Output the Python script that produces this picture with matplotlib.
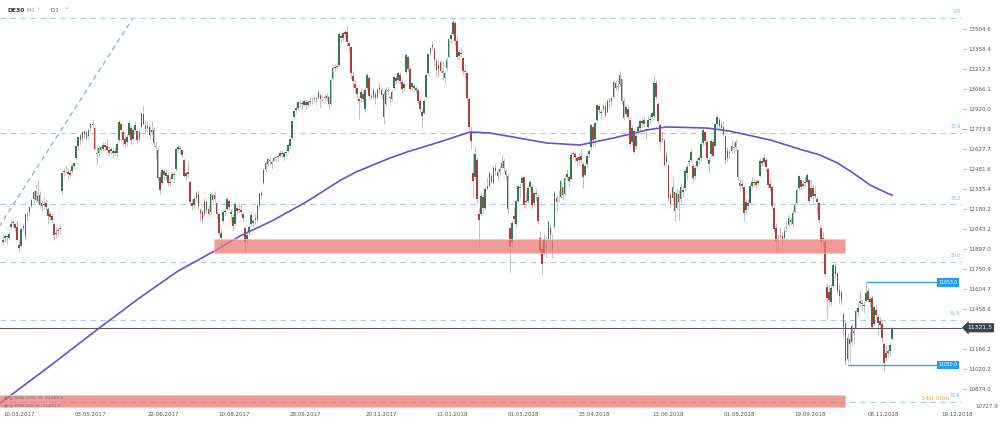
import matplotlib
matplotlib.use("Agg")
import matplotlib.pyplot as plt
import numpy as np
from matplotlib.patches import Rectangle
from matplotlib.transforms import blended_transform_factory

# ─────────────────────────────────────────────
# DATA  (DE30, D1 candles, 10.03.2017 .. 26.11.2018, one row per month)
# ─────────────────────────────────────────────
opens = [
    11950, 11975, 11985, 11980, 12060, 12090, 12080, 12060, 11930, 11920, 12050, 11990, 12150, 12165, 12210, 12260,
    12320, 12250, 12290, 12210, 12220, 12230, 12190, 12130, 12140, 12080, 12010, 12030, 12040, 12320, 12460, 12475, 12460, 12450,
    12470, 12500, 12560, 12650, 12730, 12700, 12740, 12750, 12720, 12780, 12810, 12780, 12600, 12600, 12640, 12630, 12660, 12650, 12620, 12610, 12610, 12600,
    12600, 12690, 12810, 12750, 12700, 12680, 12730, 12780, 12700, 12770, 12760, 12700, 12790, 12880, 12800, 12780, 12790, 12750, 12770, 12640, 12620, 12420,
    12380, 12470, 12430, 12440, 12380, 12410, 12440, 12480, 12630, 12630, 12620, 12550, 12430, 12460, 12390, 12230, 12220, 12270, 12300, 12180, 12170,
    12150, 12240, 12190, 12170, 12290, 12260, 12230, 12150, 11980, 12100, 12170, 12190, 12250, 12150, 12130, 12080, 12200, 12190, 12180, 12150, 12050, 11960, 12020,
    12080, 12090, 12110, 12110, 12210, 12290, 12380, 12480, 12520, 12550, 12530, 12540, 12560, 12570, 12580, 12600, 12570, 12600, 12610, 12650, 12710,
    12860, 12910, 12930, 12970, 12960, 12950, 12970, 12950, 12970, 12990, 12990, 13000, 13000, 13020, 12990, 13000, 13000, 13010, 12960, 13140, 13220, 13230,
    13240, 13450, 13440, 13480, 13480, 13400, 13370, 13160, 13100, 13070, 12990, 13000, 13030, 12920, 13070, 13150, 13010, 13010, 13030, 13010, 13070, 13060,
    13030, 12960, 13060, 13000, 12990, 13070, 13150, 13130, 13170, 13120, 13070, 13190, 13300, 13210, 13080, 13090, 13060, 13060, 12980,
    12900, 12890, 13010, 13180, 13330, 13370, 13360, 13270, 13210, 13260, 13200, 13150, 13220, 13300, 13430, 13470, 13550, 13420, 13310, 13330, 13290, 13200,
    13180, 12990, 12750, 12450, 12420, 12550, 12150, 12150, 12280, 12200, 12360, 12360, 12430, 12380, 12490, 12430, 12460, 12490, 12540, 12470,
    12430, 12050, 11950, 12140, 12080, 12250, 12350, 12380, 12420, 12250, 12250, 12350, 12350, 12230, 12300, 12280, 11980, 11900, 11860, 11900, 11970,
    12050, 11900, 12060, 12270, 12260, 12280, 12350, 12300, 12420, 12420, 12410, 12590, 12590, 12560, 12550, 12580, 12520, 12440, 12520, 12590,
    12640, 12790, 12700, 12840, 12940, 12890, 12920, 12940, 12900, 12970, 12980, 13010, 13110, 13090, 13100, 13140, 12980, 12880, 12920, 12840, 12680, 12760,
    12650, 12760, 12780, 12820, 12840, 12770, 12790, 12850, 12860, 12870, 13110, 12960, 12800, 12700, 12690, 12530, 12510, 12290, 12270, 12310, 12200,
    12300, 12260, 12330, 12340, 12450, 12530, 12550, 12500, 12430, 12500, 12550, 12560, 12670, 12750, 12680, 12520, 12590, 12680, 12650, 12810, 12840, 12780,
    12790, 12720, 12560, 12600, 12610, 12640, 12640, 12620, 12380, 12370, 12350, 12180, 12230, 12230, 12360, 12380, 12390, 12380, 12430, 12540, 12530, 12550, 12480,
    12370, 12350, 12200, 12050, 11970, 11990, 11990, 11980, 12050, 12070, 12110, 12080, 12170, 12230, 12340, 12400, 12360, 12380, 12390, 12400,
    12280, 12340, 12300, 12260, 12230, 12050, 11960, 11950, 11620, 11580, 11510, 11630, 11770, 11720, 11600, 11580, 11420, 11360, 11090, 11240, 11220, 11300, 11320,
    11440, 11500, 11500, 11490, 11520, 11590, 11510, 11540, 11350, 11450, 11400, 11370, 11350, 11200, 11100, 11150, 11150, 11240,
]
highs = [
    12010, 12005, 11995, 12025, 12110, 12110, 12090, 12110, 11960, 12060, 12090, 12160, 12175, 12210, 12270, 12330,
    12375, 12400, 12320, 12250, 12280, 12255, 12205, 12175, 12160, 12095, 12060, 12050, 12080, 12470, 12490, 12510, 12490, 12480,
    12520, 12540, 12660, 12720, 12740, 12760, 12770, 12760, 12780, 12820, 12840, 12790, 12640, 12660, 12660, 12680, 12680, 12700, 12640, 12640, 12630, 12640,
    12680, 12840, 12830, 12770, 12730, 12740, 12840, 12800, 12790, 12830, 12770, 12780, 12900, 12950, 12830, 12830, 12800, 12830, 12790, 12680, 12640, 12460,
    12490, 12480, 12480, 12460, 12420, 12460, 12470, 12640, 12660, 12650, 12630, 12560, 12470, 12540, 12400, 12260, 12280, 12320, 12330, 12200, 12190,
    12270, 12260, 12220, 12310, 12300, 12320, 12250, 12160, 12050, 12180, 12200, 12280, 12260, 12190, 12150, 12240, 12220, 12230, 12220, 12160, 12060, 12030, 12090,
    12170, 12120, 12160, 12230, 12310, 12320, 12490, 12540, 12560, 12570, 12550, 12580, 12580, 12590, 12620, 12620, 12610, 12630, 12670, 12710, 12840,
    12920, 12950, 12980, 12990, 12980, 12990, 12990, 12980, 13010, 13010, 13020, 13010, 13060, 13030, 13020, 13030, 13040, 13020, 13140, 13240, 13250, 13260,
    13480, 13470, 13490, 13500, 13525, 13420, 13380, 13200, 13140, 13090, 13010, 13070, 13060, 13070, 13180, 13160, 13040, 13070, 13050, 13070, 13110, 13080,
    13050, 13080, 13090, 13020, 13060, 13170, 13170, 13200, 13190, 13140, 13120, 13330, 13310, 13230, 13120, 13100, 13090, 13070, 13000,
    12920, 12990, 13180, 13330, 13380, 13420, 13370, 13290, 13280, 13280, 13270, 13200, 13300, 13440, 13480, 13590, 13560, 13470, 13360, 13370, 13300, 13250,
    13200, 13010, 12790, 12600, 12650, 12580, 12200, 12320, 12300, 12360, 12420, 12470, 12450, 12500, 12520, 12480, 12500, 12590, 12560, 12480,
    12450, 12060, 12110, 12200, 12260, 12370, 12380, 12440, 12430, 12310, 12360, 12400, 12370, 12320, 12340, 12300, 12030, 11950, 12010, 11990, 12110,
    12080, 12010, 12320, 12290, 12330, 12410, 12360, 12430, 12480, 12440, 12600, 12620, 12610, 12580, 12600, 12630, 12530, 12520, 12600, 12630,
    12810, 12800, 12830, 12960, 12960, 12920, 12960, 12970, 12990, 13000, 13010, 13130, 13130, 13130, 13200, 13150, 13000, 12960, 12950, 12860, 12800, 12770,
    12750, 12800, 12850, 12860, 12870, 12790, 12870, 12880, 12900, 13170, 13130, 12970, 12810, 12760, 12700, 12610, 12520, 12330, 12420, 12320, 12340,
    12330, 12380, 12360, 12480, 12520, 12560, 12630, 12520, 12510, 12560, 12580, 12670, 12780, 12760, 12700, 12570, 12700, 12700, 12820, 12880, 12860, 12830,
    12830, 12730, 12640, 12630, 12690, 12670, 12700, 12630, 12420, 12410, 12360, 12270, 12260, 12370, 12420, 12410, 12410, 12410, 12560, 12570, 12590, 12560, 12490,
    12400, 12360, 12220, 12090, 12010, 12060, 12020, 12060, 12100, 12150, 12130, 12180, 12240, 12340, 12440, 12410, 12400, 12420, 12450, 12410,
    12410, 12370, 12360, 12280, 12250, 12080, 12030, 11980, 11650, 11640, 11640, 11790, 11800, 11730, 11640, 11600, 11440, 11380, 11280, 11290, 11360, 11330, 11460,
    11500, 11600, 11530, 11520, 11653, 11620, 11560, 11560, 11480, 11500, 11420, 11400, 11370, 11220, 11200, 11170, 11220, 11330,
]
lows = [
    11925, 11950, 11935, 11960, 12040, 12060, 12030, 11955, 11880, 11910, 12030, 11960, 12105, 12140, 12195, 12230,
    12240, 12230, 12200, 12170, 12190, 12180, 12080, 12100, 12090, 11960, 11980, 11990, 12010, 12300, 12430, 12450, 12410, 12420,
    12455, 12480, 12550, 12620, 12660, 12680, 12710, 12690, 12700, 12760, 12780, 12620, 12510, 12580, 12600, 12610, 12620, 12610, 12580, 12590, 12560, 12580,
    12570, 12680, 12760, 12660, 12640, 12650, 12720, 12660, 12690, 12750, 12670, 12680, 12780, 12800, 12740, 12750, 12700, 12740, 12650, 12560, 12400, 12300,
    12370, 12410, 12400, 12360, 12350, 12400, 12380, 12470, 12600, 12590, 12570, 12420, 12400, 12420, 12220, 12180, 12200, 12250, 12180, 12100, 12090,
    12140, 12160, 12130, 12150, 12240, 12240, 12120, 12000, 11920, 12090, 12140, 12180, 12180, 12100, 12030, 12070, 12150, 12160, 12140, 12100, 11868, 11940, 12000,
    12070, 12060, 12080, 12100, 12190, 12260, 12370, 12460, 12500, 12510, 12480, 12530, 12540, 12540, 12570, 12570, 12540, 12580, 12600, 12630, 12700,
    12850, 12890, 12910, 12940, 12920, 12940, 12920, 12930, 12950, 12960, 12970, 12950, 12990, 12930, 12970, 12980, 12980, 12920, 12950, 13130, 13200, 13210,
    13230, 13400, 13420, 13440, 13380, 13340, 13140, 13080, 13040, 12990, 12850, 12980, 12970, 12900, 13060, 12990, 12990, 12990, 12960, 12990, 13040, 12990,
    12810, 12950, 13020, 12950, 12980, 13060, 13100, 13110, 13100, 13040, 13050, 13180, 13190, 13060, 13050, 13050, 13040, 12960, 12900,
    12780, 12880, 13000, 13170, 13310, 13350, 13230, 13160, 13150, 13190, 13130, 13120, 13200, 13290, 13400, 13460, 13390, 13280, 13280, 13300, 13170, 13150,
    12980, 12760, 12630, 12280, 12410, 12240, 11910, 12140, 12160, 12180, 12330, 12350, 12370, 12370, 12440, 12400, 12440, 12480, 12470, 12410,
    12160, 11722, 11900, 12080, 12050, 12230, 12280, 12360, 12200, 12200, 12230, 12320, 12190, 12210, 12250, 12080, 11850, 11715, 11850, 11830, 11950,
    11880, 11830, 12050, 12170, 12240, 12270, 12260, 12290, 12400, 12360, 12400, 12560, 12530, 12500, 12510, 12530, 12340, 12420, 12490, 12570,
    12620, 12650, 12640, 12830, 12880, 12850, 12900, 12860, 12890, 12930, 12950, 13000, 13060, 13060, 13090, 12950, 12840, 12860, 12850, 12650, 12660, 12590,
    12630, 12740, 12760, 12780, 12790, 12700, 12780, 12810, 12830, 12850, 12990, 12820, 12620, 12680, 12500, 12500, 12250, 12200, 12250, 12100, 12180,
    12110, 12240, 12280, 12320, 12400, 12500, 12530, 12380, 12410, 12480, 12520, 12540, 12650, 12660, 12540, 12460, 12580, 12560, 12640, 12790, 12770, 12760,
    12720, 12520, 12540, 12560, 12600, 12600, 12620, 12400, 12330, 12320, 12105, 12150, 12180, 12220, 12340, 12350, 12340, 12360, 12420, 12500, 12510, 12460, 12340,
    12320, 12190, 12020, 11870, 11880, 11970, 11920, 11960, 12020, 12060, 12070, 12060, 12160, 12220, 12330, 12330, 12340, 12350, 12380, 12220,
    12270, 12230, 12270, 12150, 12090, 11920, 11900, 11690, 11390, 11490, 11490, 11620, 11680, 11570, 11500, 11490, 11260, 11050, 11070, 11080, 11190, 11200, 11310,
    11400, 11470, 11450, 11430, 11510, 11500, 11470, 11310, 11340, 11380, 11260, 11310, 11210, 11010, 11080, 11100, 11110, 11230,
]
closes = [
    11963, 11990, 11988, 12009, 12083, 12095, 12052, 11962, 11904, 12040, 12064, 12149, 12149, 12203, 12257, 12313,
    12257, 12282, 12218, 12230, 12225, 12201, 12139, 12154, 12109, 12000, 12017, 12027, 12048, 12455, 12467, 12472, 12443, 12438,
    12507, 12527, 12648, 12716, 12694, 12749, 12757, 12711, 12770, 12808, 12804, 12631, 12590, 12638, 12619, 12659, 12642, 12622, 12602, 12629, 12599, 12615,
    12664, 12823, 12770, 12690, 12667, 12714, 12816, 12690, 12765, 12806, 12692, 12752, 12888, 12814, 12774, 12794, 12733, 12770, 12671, 12647, 12416, 12325,
    12475, 12437, 12453, 12381, 12389, 12445, 12437, 12626, 12641, 12632, 12587, 12430, 12452, 12448, 12240, 12209, 12263, 12305, 12212, 12163, 12118,
    12251, 12181, 12154, 12298, 12257, 12292, 12154, 12014, 12014, 12165, 12178, 12263, 12203, 12165, 12065, 12229, 12174, 12180, 12167, 12123, 11946, 12002, 12055,
    12142, 12102, 12123, 12214, 12296, 12303, 12475, 12524, 12553, 12540, 12519, 12560, 12561, 12569, 12600, 12592, 12595, 12605, 12657, 12704, 12829,
    12903, 12930, 12970, 12968, 12955, 12976, 12949, 12970, 12982, 12992, 13004, 12995, 13043, 12990, 12991, 13003, 13013, 12953, 13133, 13217, 13229, 13229,
    13465, 13440, 13478, 13468, 13406, 13382, 13182, 13127, 13074, 13033, 12976, 13047, 12994, 13059, 13169, 13015, 13008, 13059, 13000, 13060, 13061, 13024,
    12861, 13058, 13048, 12999, 13045, 13153, 13123, 13183, 13125, 13068, 13104, 13312, 13215, 13069, 13110, 13072, 13070, 12979, 12918,
    12871, 12978, 13167, 13319, 13367, 13385, 13281, 13202, 13245, 13201, 13184, 13183, 13281, 13434, 13463, 13559, 13414, 13298, 13340, 13324, 13197, 13189,
    13003, 12785, 12687, 12393, 12590, 12260, 12107, 12282, 12196, 12339, 12346, 12452, 12385, 12487, 12470, 12461, 12483, 12527, 12490, 12436,
    12190, 11914, 12090, 12114, 12245, 12355, 12346, 12418, 12221, 12238, 12345, 12390, 12217, 12307, 12309, 12101, 11887, 11787, 11970, 11940, 12097,
    12002, 11957, 12306, 12241, 12261, 12397, 12293, 12415, 12442, 12391, 12585, 12590, 12567, 12540, 12572, 12550, 12422, 12500, 12580, 12612,
    12802, 12690, 12820, 12948, 12912, 12897, 12945, 12874, 12977, 12970, 13000, 13114, 13077, 13078, 13169, 12977, 12855, 12938, 12863, 12666, 12783, 12605,
    12724, 12787, 12831, 12830, 12811, 12767, 12842, 12842, 12890, 13107, 13011, 12834, 12677, 12695, 12512, 12580, 12271, 12228, 12348, 12177, 12306,
    12238, 12349, 12317, 12465, 12496, 12543, 12609, 12417, 12492, 12541, 12561, 12661, 12765, 12686, 12561, 12548, 12689, 12579, 12809, 12860, 12798, 12805,
    12737, 12546, 12616, 12598, 12648, 12633, 12676, 12424, 12358, 12358, 12163, 12237, 12210, 12358, 12384, 12385, 12365, 12394, 12538, 12527, 12561, 12494, 12364,
    12346, 12210, 12040, 11955, 11960, 11986, 11970, 12032, 12055, 12124, 12096, 12158, 12219, 12326, 12431, 12350, 12374, 12385, 12435, 12247,
    12346, 12287, 12287, 12244, 12111, 11947, 11977, 11712, 11539, 11524, 11614, 11777, 11715, 11589, 11553, 11524, 11330, 11080, 11250, 11200, 11335, 11287, 11447,
    11468, 11519, 11494, 11484, 11579, 11527, 11529, 11325, 11472, 11412, 11353, 11341, 11244, 11066, 11138, 11137, 11193, 11321.5,
]

# 200-period SMA (bar index, value)
sma_bars = [-1.5, 23, 46, 67, 86, 103, 116.5, 133, 149, 166, 173.5, 181.8, 190.2, 198.5, 206.4, 214.7, 222.1,
            229.5, 239, 250.5, 267, 283.5, 300, 316.5, 326, 346, 357, 377, 393, 401.5, 410, 417.7, 426, 434.4, 437]
sma_vals = [10769, 11042, 11305, 11539, 11736, 11875, 11992, 12109, 12241, 12401, 12460, 12511, 12562, 12606, 12642, 12680, 12716,
            12752, 12745, 12716, 12672, 12657, 12708, 12767, 12789, 12781, 12759, 12694, 12620, 12584, 12526, 12453, 12365, 12306, 12289.5]

date_labels = ["10.03.2017", "03.05.2017", "22.06.2017", "10.08.2017", "28.09.2017", "20.11.2017", "11.01.2018",
               "01.03.2018", "23.04.2018", "13.06.2018", "01.08.2018", "19.09.2018", "08.11.2018", "19.12.2018"]
date_bars = [0, 35, 71, 106, 141, 178, 213, 248, 283, 319, 354, 389, 425, 461]

price_ticks = [13504.6, 13358.4, 13212.3, 13066.1, 12920.0, 12773.9, 12627.7, 12481.6, 12335.4, 12189.2,
               12043.2, 11897.0, 11750.9, 11604.7, 11458.6, 11166.2, 11020.2, 10874.0]

fib_names = ["0.0", "23.6", "38.2", "50.0", "61.8", "78.6"]
fib_ratios = [0.0, 0.236, 0.382, 0.5, 0.618, 0.786]
fib_high, fib_low = 13588.6, 10018.0
fib_start_bar, fib_end_bar = -90, 64

zones = [(103.7, 413.8, 11866, 11968), (-2, 413.8, 10743, 10830)]   # (bar0, bar1, low, high)
levels = [(424.4, 11653.0, "11653.0"), (415.3, 11050.0, "11050.0")]
last_price = 11321.5
sma_last, ema_last = 12289.5, 11471.2

# ─────────────────────────────────────────────
# PLOT
# ─────────────────────────────────────────────
GREEN, RED, WICK = "#2f7a52", "#b03c3c", "#b8b8b8"
FIB_BLUE = "#a9c9f7"

o, h, l, c = (np.asarray(a, float) for a in (opens, highs, lows, closes))
assert len(o) == len(h) == len(l) == len(c), (len(o), len(h), len(l), len(c))
x = np.arange(len(c))

fig = plt.figure(figsize=(10, 4.23), dpi=100)
ax = fig.add_axes([0, 13 / 423, 0.962, 410 / 423])
ax.set_xlim(-1.47, 471.25)
ax.set_ylim(10720.8, 13716.5)
ax.axis("off")

# fibonacci retracement
rng = fib_high - fib_low
ax.plot([fib_start_bar, fib_end_bar], [fib_low, fib_high], color="#6fb1f4", lw=0.9,
        dashes=(4, 3), zorder=1)
for name, r in zip(fib_names, fib_ratios):
    lvl = fib_high - r * rng
    ax.axhline(lvl, color=FIB_BLUE, lw=0.8, dashes=(5, 4), zorder=1)
    ax.annotate(name, (1.0, lvl), xycoords=("axes fraction", "data"), xytext=(-1, 2.5),
                textcoords="offset points", ha="right", va="bottom", fontsize=3.3, color="#7fb2ee")

# candles
up = c >= o
ax.vlines(x, l, h, color=WICK, lw=0.6, zorder=2)
body = np.maximum(np.abs(c - o), 6)
ax.bar(x[up], body[up], bottom=o[up], width=0.8, color=GREEN, linewidth=0, zorder=3)
ax.bar(x[~up], body[~up], bottom=c[~up], width=0.8, color=RED, linewidth=0, zorder=3)

# sma
ax.plot(sma_bars, sma_vals, color="#6a50cc", lw=1.2, zorder=4)

# zones
for b0, b1, lo, hi in zones:
    ax.add_patch(Rectangle((b0, lo), b1 - b0, hi - lo, facecolor="#eb7a72", alpha=0.75,
                           edgecolor="#f7c4b8", lw=0.8, zorder=5))

# last price line
ax.axhline(last_price, color="#555b66", lw=0.8, zorder=4)

# horizontal levels with labels
for b0, val, txt in levels:
    ax.plot([b0, 459.5], [val, val], color="#2ea3f2", lw=1.0, zorder=6)
    ax.text(459.8, val, txt, fontsize=3.3, color="white", ha="left", va="center", zorder=7,
            bbox=dict(boxstyle="square,pad=0.35", fc="#1e9ff2", ec="none"))

# x labels
ytr = blended_transform_factory(ax.transData, fig.transFigure)
for lab, b in zip(date_labels, date_bars):
    ax.text(b, 9 / 423, lab, transform=ytr, fontsize=4, color="#555555", ha="left", va="center")

# y labels
ftr = blended_transform_factory(fig.transFigure, ax.transData)
for v in price_ticks:
    ax.text(0.968, v, f"{v:.1f}", transform=ftr, fontsize=4, color="#555555", ha="left", va="center",
            clip_on=False)
    ax.plot([0.963, 0.966], [v, v], transform=ftr, color="#999999", lw=0.5, clip_on=False)
fig.text(0.975, 1 - 406 / 423, "10727.9", fontsize=4, color="#555555", ha="left", va="center")
ax.text(0.967, last_price, f"{last_price:.1f}", transform=ftr, fontsize=4.3, color="white",
        ha="left", va="center", clip_on=False,
        bbox=dict(boxstyle="larrow,pad=0.35", fc="#3b4350", ec="none"))

# header and indicator legend
fig.text(0.007, 1 - 10 / 423, "DE30", fontsize=4.3, weight="bold", color="#333333", va="center")
fig.text(0.027, 1 - 10 / 423, "M0  ˅", fontsize=3.5, color="#999999", va="center")
fig.text(0.051, 1 - 10 / 423, "D1    ˅", fontsize=4, color="#555555", va="center")
fig.text(0.004, 1 - 397 / 423, f"◉ ◎ SMA (200, 0)  {sma_last}", fontsize=3.2, color="#777777", va="center")
fig.text(0.004, 1 - 405.5 / 423, f"◉ ◎ EMA (50, 0)  {ema_last}", fontsize=3.2, color="#777777", va="center")
fig.text(0.921, 1 - 398 / 423, "14h 30m", fontsize=4.6, color="#f5a623", va="center")

fig.savefig("out.png", dpi=100)
